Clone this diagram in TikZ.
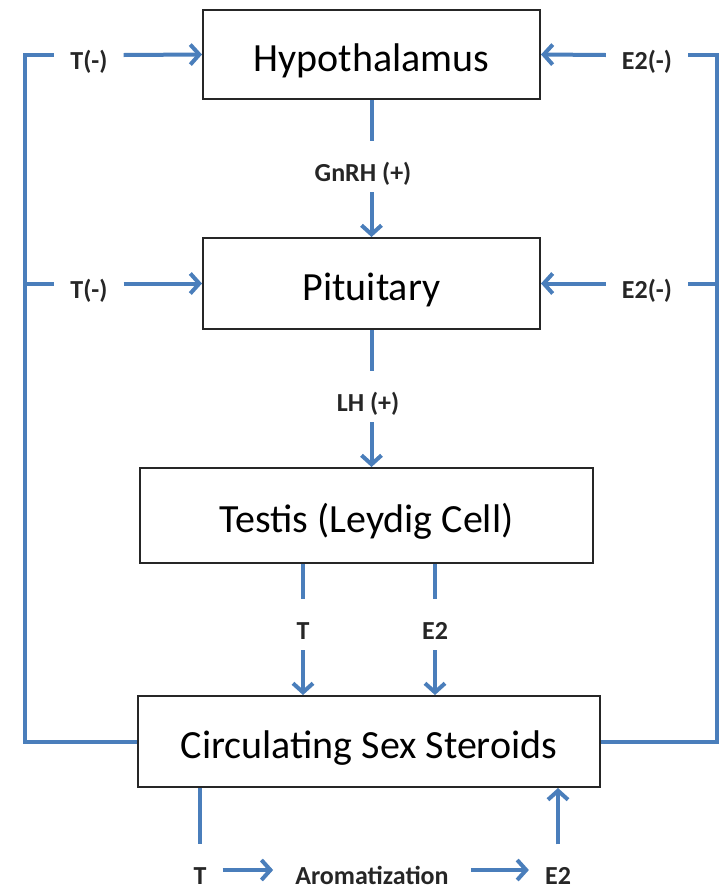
\documentclass[tikz,border=0pt]{standalone}
\usepackage{fontspec}
\setmainfont{Carlito}
\usetikzlibrary{arrows.meta}
\definecolor{flow}{HTML}{4A7EBB}
\begin{document}
\begin{tikzpicture}[x=1pt,y=-1pt,
  box/.style={draw=black!85, line width=2pt, fill=white, rectangle, inner sep=0pt,
    font=\fontsize{40}{48}\selectfont, text height=36pt, text depth=3pt},
  lbl/.style={inner xsep=16pt, inner ysep=11pt, font=\fontsize{26}{32}\selectfont\bfseries,
    text height=29pt, text depth=0pt, text=black!85},
  flowline/.style={draw=flow, line width=4pt, line join=miter},
  arr/.style={flowline, -{Straight Barb[length=9pt,width=20pt,line width=4pt]}}]
\useasboundingbox (0,0) rectangle (727,892);

% boxes
\node[box, minimum width=337pt, minimum height=89pt] (hyp) at (371.5,54.5) {Hypothalamus};
\node[box, minimum width=337pt, minimum height=91pt] (pit) at (371.5,283.5) {Pituitary};
\node[box, minimum width=453pt, minimum height=95pt] (tes) at (366.5,515.5) {Testis (Leydig Cell)};
\node[box, minimum width=462pt, minimum height=91pt] (circ) at (369,741.5) {Circulating Sex Steroids};

% labels
\node[lbl] (t1) at (89,55) {T(-)};
\node[lbl] (e1) at (647,55) {E2(-)};
\node[lbl] (t2) at (89,283.5) {T(-)};
\node[lbl] (e2) at (647,283.5) {E2(-)};
\node[lbl] (gn) at (363,166.5) {GnRH (+)};
\node[lbl] (lh) at (368,396.5) {LH (+)};
\node[lbl] (tm) at (303,624.5) {T};
\node[lbl] (em) at (435,624.5) {E2};
\node[lbl] (bt) at (200,870) {T};
\node[lbl, inner xsep=22pt] (aro) at (372,870) {Aromatization};
\node[lbl] (be) at (558,870) {E2};

% corner coordinates
\coordinate (cTL) at (25,55);
\coordinate (cTR) at (717,55);
\coordinate (cL2) at (25,283.5);
\coordinate (cR2) at (717,283.5);

% feedback loops
\draw[flowline] (circ.west) -| (cTL) -- (t1.west);
\draw[flowline] (circ.east) -| (cTR) -- (e1.east);
\draw[flowline] (cL2) -- (t2.west);
\draw[flowline] (cR2) -- (e2.east);
\draw[arr] (t1.east) -- (hyp.west);
\draw[arr] (e1.west) -- (hyp.east);
\draw[arr] (t2.east) -- (pit.west);
\draw[arr] (e2.west) -- (pit.east);

% main axis
\draw[flowline] (hyp.south) -- (hyp.south |- gn.north);
\draw[arr] (hyp.south |- gn.south) -- (pit.north);
\draw[flowline] (pit.south) -- (pit.south |- lh.north);
\draw[arr] (pit.south |- lh.south) -- (pit.south |- tes.north);
\draw[flowline] (tm.center |- tes.south) -- (tm.north);
\draw[arr] (tm.south) -- (tm.south |- circ.north);
\draw[flowline] (em.center |- tes.south) -- (em.north);
\draw[arr] (em.south) -- (em.south |- circ.north);

% aromatization
\draw[flowline] (bt.center |- circ.south) -- (bt.north);
\draw[arr] (bt.east) -- (aro.west);
\draw[arr] (aro.east) -- (be.west);
\draw[arr] (be.north) -- (be.north |- circ.south);
\end{tikzpicture}
\end{document}
